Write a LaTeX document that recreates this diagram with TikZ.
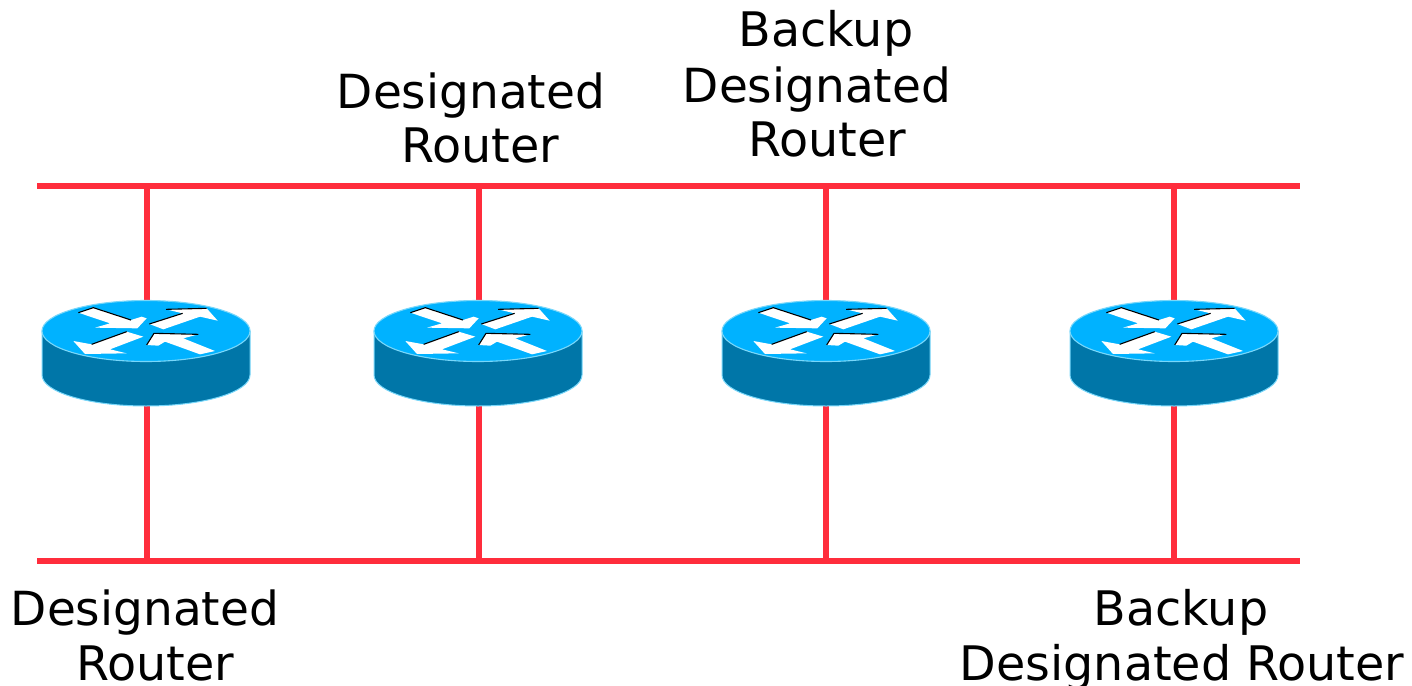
\documentclass[tikz,border=0pt]{standalone}
\usepackage{fontspec}
\setmainfont{DejaVu Sans}
\definecolor{busred}{RGB}{255,45,60}
\definecolor{routertop}{RGB}{0,178,255}
\definecolor{routerside}{RGB}{0,118,168}
\definecolor{routeredge}{RGB}{120,215,250}
\tikzset{
  x=1pt,y=-1pt,
  busline/.style={draw=busred,line width=5.6pt},
  lbl/.style={anchor=base,inner sep=0pt,font=\fontsize{47}{54}\selectfont,text=black},
  lblwide/.style={anchor=base,inner sep=0pt,font=\fontsize{47.6}{54}\selectfont,text=black},
  flowarrow/.style={fill=white,draw=none},
  arrowshade/.style={draw=black,line width=1.1pt},
  pics/routerpic/.style={code={
    \begin{scope}[x=1pt,y=-1pt]
    \path[fill=routerside,draw=routeredge,line width=1pt]
      (-104,0) -- (-104,44) arc[start angle=180,end angle=0,x radius=104,y radius=31]
      -- (104,0) -- cycle;
    \path[fill=routertop,draw=routeredge,line width=1.1pt]
      (0,0) ellipse[x radius=104,y radius=30.5];
    \begin{scope}[x=0.3333pt,y=-0.3333pt]
      \path[flowarrow] (-203,-55) -- (-158,-70) -- (-45,-33) -- (-13,-43) -- (2,-38) -- (-26,-8) -- (-153,-10) -- (-108,-23) -- cycle;
      \path[flowarrow] (10,-21) -- (110,-53) -- (60,-65) -- (182,-68) -- (215,-31) -- (162,-43) -- (52,-5) -- cycle;
      \path[flowarrow] (-218,30) -- (-163,40) -- (-58,2) -- (-8,17) -- (-108,55) -- (-58,67) -- (-183,69) -- cycle;
      \path[flowarrow] (2,42) -- (24,7) -- (157,10) -- (112,22) -- (207,60) -- (162,70) -- (57,32) -- (37,44) -- cycle;
      \draw[arrowshade] (-203,-55) -- (-158,-70) -- (-45,-33);
      \draw[arrowshade] (10,-21) -- (110,-53);
      \draw[arrowshade] (60,-65) -- (182,-68);
      \draw[arrowshade] (-163,40) -- (-58,2);
      \draw[arrowshade] (2,42) -- (24,7) -- (157,10);
    \end{scope}
    \end{scope}
  }}
}
\begin{document}
\begin{tikzpicture}
\useasboundingbox (0,0) rectangle (1412,685);
% bus ends
\coordinate (topL) at (37,186);
\coordinate (topR) at (1300,186);
\coordinate (botL) at (37,561);
\coordinate (botR) at (1300,561);
\coordinate (t1) at (147,186); \coordinate (b1) at (147,561);
\coordinate (t2) at (479,186); \coordinate (b2) at (479,561);
\coordinate (t3) at (826,186); \coordinate (b3) at (826,561);
\coordinate (t4) at (1174,186); \coordinate (b4) at (1174,561);
\draw[busline] (topL) -- (topR);
\draw[busline] (botL) -- (botR);
\draw[busline] (t1) -- (b1);
\draw[busline] (t2) -- (b2);
\draw[busline] (t3) -- (b3);
\draw[busline] (t4) -- (b4);
% routers
\pic (r1) at (146,331) {routerpic};
\pic (r2) at (478,331) {routerpic};
\pic (r3) at (826,331) {routerpic};
\pic (r4) at (1174,331) {routerpic};
% labels
\node[lbl] (a1) at (471,108) {Designated};
\node[lblwide] (a2) at (480,162) {Router};
\node[lblwide] (c1) at (826,46) {Backup};
\node[lbl] (c2) at (817,102) {Designated};
\node[lblwide] (c3) at (827,156) {Router};
\node[lbl] (d1) at (145,625) {Designated};
\node[lblwide] (d2) at (155,680) {Router};
\node[lblwide] (e1) at (1181,625) {Backup};
\node[lblwide] (e2) at (1182,680) {Designated Router};
\end{tikzpicture}
\end{document}
